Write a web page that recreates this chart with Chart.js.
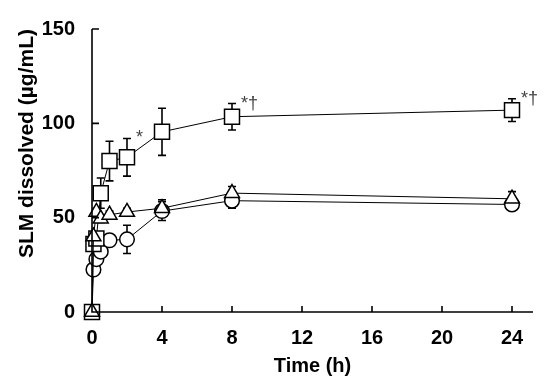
<!DOCTYPE html>
<html>
<head>
<meta charset="utf-8">
<script src="https://cdn.jsdelivr.net/npm/chart.js@4"></script>
<style>
  body { margin: 0; background: #fff; }
  canvas { display: block; }
</style>
</head>
<body>
<canvas id="chart" width="550" height="383"></canvas>
<script>
// Sampling times (h)
const times = [0, 0.083, 0.25, 0.5, 1, 2, 4, 8, 24];

// Dissolved SLM (µg/mL) per formulation
const squareMean = [0, 36, 39, 63, 80, 82, 95.5, 103.5, 107];
const squareSD   = [0, 2, 2, 8, 10.5, 10, 12.5, 7, 6];

const circleMean = [0, 22.5, 28, 32, 38, 38.5, 53.5, 59, 57];
const circleSD   = [0, 2, 2, 2, 2, 7.5, 5, 4, 2];

const triangleMean = [0, 40, 53, 49.5, 51.5, 53, 55, 63, 60];
const triangleSD   = [0, 2, 2, 2, 2, 2, 4.5, 3.5, 3.8];

// Significance marks on the square series: [point index, text]
const marks = [[5, '*'], [7, '*\u2020'], [8, '*\u2020']];

const xTicks = [0, 4, 8, 12, 16, 20, 24];
const yTicks = [0, 50, 100, 150];

const FONT = 'Liberation Sans, Arial, sans-serif';

function toPoints(means) {
    return times.map((t, i) => ({ x: t, y: means[i] }));
}

// Fehlerbalken vor den Markern zeichnen
const errorBars = {
    id: 'errorBars',
    beforeDatasetsDraw(chart) {
        const { ctx, scales: { x, y } } = chart;
        const sets = [[squareMean, squareSD], [circleMean, circleSD], [triangleMean, triangleSD]];
        ctx.save();
        ctx.strokeStyle = '#000';
        ctx.lineWidth = 1.6;
        sets.forEach(([m, sd]) => {
            times.forEach((t, i) => {
                if (!sd[i]) return;
                const px = x.getPixelForValue(t);
                const top = y.getPixelForValue(m[i] + sd[i]);
                const bot = y.getPixelForValue(m[i] - sd[i]);
                ctx.beginPath();
                ctx.moveTo(px, top); ctx.lineTo(px, bot);
                ctx.moveTo(px - 4, top); ctx.lineTo(px + 4, top);
                ctx.moveTo(px - 4, bot); ctx.lineTo(px + 4, bot);
                ctx.stroke();
            });
        });
        ctx.restore();
    }
};

// Achsenlinien, nach innen zeigende Ticks und Signifikanz-Zeichen
const axesAndMarks = {
    id: 'axesAndMarks',
    afterDraw(chart) {
        const { ctx, chartArea: a, scales: { x, y } } = chart;
        ctx.save();
        ctx.strokeStyle = '#000';
        ctx.lineWidth = 1.6;
        ctx.beginPath();
        ctx.moveTo(a.left, a.top); ctx.lineTo(a.left, a.bottom); ctx.lineTo(a.right, a.bottom);
        xTicks.forEach(v => {
            const px = x.getPixelForValue(v);
            ctx.moveTo(px, a.bottom); ctx.lineTo(px, a.bottom - 6);
        });
        yTicks.forEach(v => {
            const py = y.getPixelForValue(v);
            ctx.moveTo(a.left, py); ctx.lineTo(a.left + 7, py);
        });
        ctx.stroke();

        ctx.fillStyle = '#444';
        ctx.font = '18px ' + FONT;
        ctx.textAlign = 'left';
        ctx.textBaseline = 'alphabetic';
        marks.forEach(([i, txt]) => {
            const px = x.getPixelForValue(times[i]);
            const py = y.getPixelForValue(squareMean[i] + squareSD[i]);
            ctx.fillText(txt, px + 9, py + 5);
        });
        ctx.restore();
    }
};

const common = {
    borderColor: '#000',
    borderWidth: 1,
    pointBackgroundColor: '#fff',
    pointBorderColor: '#000',
    pointBorderWidth: 1.5,
    showLine: true,
    tension: 0,
    clip: false
};

new Chart(document.getElementById('chart'), {
    type: 'scatter',
    data: {
        datasets: [
            { ...common, label: 'Square', data: toPoints(squareMean), pointStyle: 'rect', pointRadius: 10.6, order: 2 },
            { ...common, label: 'Circle', data: toPoints(circleMean), pointStyle: 'circle', pointRadius: 7.3, order: 3 },
            { ...common, label: 'Triangle', data: toPoints(triangleMean), pointStyle: 'triangle', pointRadius: 8.6, order: 1 }
        ]
    },
    options: {
        responsive: false,
        animation: false,
        layout: { padding: { top: 15, right: 17, left: 0, bottom: 0 } },
        plugins: { legend: { display: false }, tooltip: { enabled: false } },
        scales: {
            x: {
                type: 'linear',
                min: 0,
                max: 25.2,
                border: { display: false },
                grid: { display: false, drawTicks: false },
                afterBuildTicks: s => { s.ticks = xTicks.map(v => ({ value: v })); },
                afterFit: s => { s.height = 71; },
                ticks: { color: '#000', padding: 14, font: { family: FONT, size: 20, weight: 'bold' } },
                title: {
                    display: true, text: 'Time (h)', color: '#000',
                    padding: { top: 0, bottom: 5 },
                    font: { family: FONT, size: 20, weight: 'bold' }
                }
            },
            y: {
                type: 'linear',
                min: 0,
                max: 150,
                border: { display: false },
                grid: { display: false, drawTicks: false },
                afterBuildTicks: s => { s.ticks = yTicks.map(v => ({ value: v })); },
                afterFit: s => { s.width = 92; },
                ticks: { color: '#000', padding: 17, font: { family: FONT, size: 20, weight: 'bold' } },
                title: {
                    display: true, text: 'SLM dissolved (\u00b5g/mL)', color: '#000', align: 'end',
                    padding: { top: 15, bottom: 0 },
                    font: { family: FONT, size: 21, weight: 'bold' }
                }
            }
        }
    },
    plugins: [errorBars, axesAndMarks]
});
</script>
</body>
</html>
